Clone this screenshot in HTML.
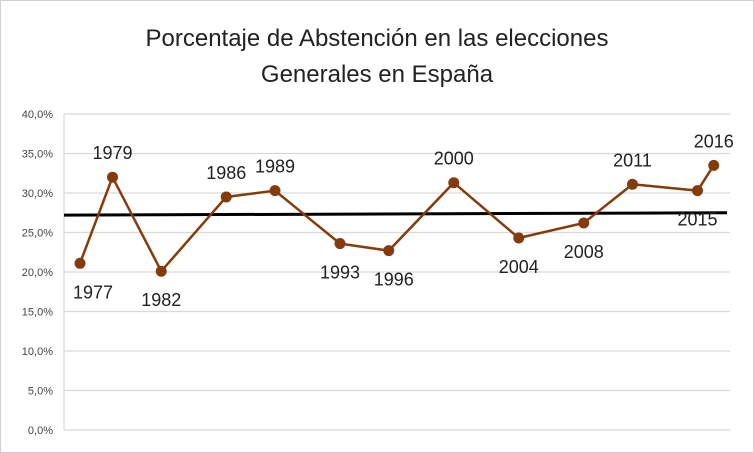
<!DOCTYPE html>
<html><head><meta charset="utf-8"><style>
body{margin:0;background:#fff;}
svg{display:block;font-family:"Liberation Sans",sans-serif;}
</style></head><body>
<svg width="754" height="453">
<rect x="0.5" y="0.5" width="753" height="452" fill="#fff" stroke="#d0d0d0"/>
<text x="377" y="46" text-anchor="middle" font-size="24" fill="#222">Porcentaje de Abstención en las elecciones</text>
<text x="377" y="82" text-anchor="middle" font-size="24" fill="#222">Generales en España</text>
<g id="grid"></g><g id="trend"></g><g id="series"></g><g id="labels"></g>
</svg>
<script>
const years=[1977,1979,1982,1986,1989,1993,1996,2000,2004,2008,2011,2015,2016];
const values=[21.1,32.0,20.1,29.5,30.3,23.6,22.7,31.3,24.3,26.2,31.1,30.3,33.5];
const labelSide=[-1,1,-1,1,1,-1,-1,1,-1,-1,1,-1,1];
const yTicks=[0,5,10,15,20,25,30,35,40];
const yTickLabels=["0,0%","5,0%","10,0%","15,0%","20,0%","25,0%","30,0%","35,0%","40,0%"];
const trendValues=[27.2,27.5];
const NS="http://www.w3.org/2000/svg";
const X=y=>80+(y-1977)*16.25;
const Y=v=>430-v*7.9;
function mk(t,a,p){const e=document.createElementNS(NS,t);for(const k in a)e.setAttribute(k,a[k]);p.appendChild(e);return e;}
const grid=document.getElementById('grid');
yTicks.forEach((t,i)=>{
  const l=mk('line',{x1:64,x2:730,y1:Y(t),y2:Y(t),stroke:'#d9d9d9','stroke-width':1.2},grid);
  
  
  const tx=mk('text',{x:53,y:Y(t)+4,'text-anchor':'end','font-size':11,fill:'#444'},grid);
  tx.textContent=yTickLabels[i];
  
  
});
const ax=mk('line',{x1:64,x2:64,y1:Y(40),y2:Y(0),stroke:'#d9d9d9','stroke-width':1.2},grid);


const tr=mk('line',{x1:64,x2:727,y1:Y(trendValues[0]),y2:Y(trendValues[1]),stroke:'#000','stroke-width':3},document.getElementById('trend'));


const s=document.getElementById('series');
const pl=mk('polyline',{points:years.map((y,i)=>X(y)+','+Y(values[i])).join(' '),fill:'none',stroke:'#843c0c','stroke-width':2.5},s);


const lg=document.getElementById('labels');
years.forEach((y,i)=>{
  const c=mk('circle',{cx:X(y),cy:Y(values[i]),r:5.5,fill:'#843c0c'},s);
  
  
  const up=labelSide[i]>0;
  const t=mk('text',{x:X(y)+(i===0?13:i===6?5:0),y:Y(values[i])+(up?-18:35),'text-anchor':'middle','font-size':18,fill:'#222'},lg);
  t.textContent=y;
  
  
});
</script>
</body></html>
